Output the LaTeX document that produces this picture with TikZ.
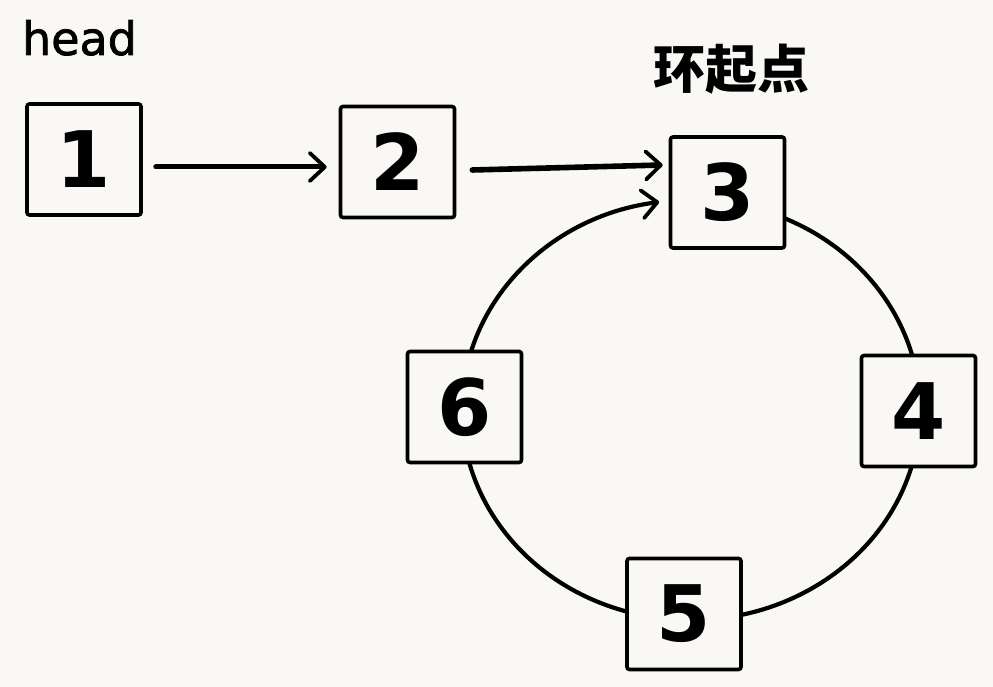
\documentclass[tikz,border=0pt]{standalone}
\usepackage{fontspec}
\setmainfont{DejaVu Sans}
\newfontfamily\headfont[FakeBold=1.6]{DejaVu Sans}
\newfontfamily\cjk{Noto Sans CJK SC}
\usetikzlibrary{arrows.meta,calc}
\definecolor{paper}{HTML}{F9F8F5}
\tikzset{
  box/.style={draw=black, line width=3.6pt, fill=paper, rounded corners=2.5pt,
    minimum width=114pt, minimum height=111pt, inner sep=0pt,
    font=\fontsize{78}{80}\selectfont\bfseries},
  arr/.style={line width=5pt, line cap=round,
    -{Straight Barb[length=15pt, width=28pt, line width=3.8pt, round]}},
  ring/.style={line width=4.2pt, line cap=round,
    -{Straight Barb[length=15pt, width=28pt, line width=3.8pt, round]}}
}
\begin{document}
\begin{tikzpicture}[x=1pt,y=1pt]
\useasboundingbox[fill=paper] (0,0) rectangle (993,687);
% ring (drawn first, boxes cover it)
\coordinate (ringc) at (691,277);
\draw[ring] ($(ringc)+(80:229 and 210)$) arc[start angle=80, end angle=-262, x radius=229, y radius=210];
% nodes
\node[box] (n1) at (84,527.5) {1};
\node[box] (n2) at (397.5,525) {2};
\node[box] (n3) at (727.5,494.5) {3};
\node[box] (n4) at (918.5,276) {4};
\node[box] (n5) at (684,73) {5};
\node[box] (n6) at (464.5,280) {6};
\node[anchor=base, font=\fontsize{46}{48}\selectfont\headfont, inner sep=0pt] (head) at (79.5,632) {head};
\node[anchor=base, font=\fontsize{52}{54}\selectfont\cjk\bfseries, inner sep=0pt] (start) at (731,598) {环起点};
% connectors
\draw[arr] ([xshift=13pt,yshift=-7.5pt]n1.east) -- ([xshift=-12pt,yshift=-5pt]n2.west);
\draw[arr, line width=5.6pt] ([xshift=16pt,yshift=-8pt]n2.east) -- ([xshift=-6pt,yshift=27.5pt]n3.west);
\end{tikzpicture}
\end{document}
